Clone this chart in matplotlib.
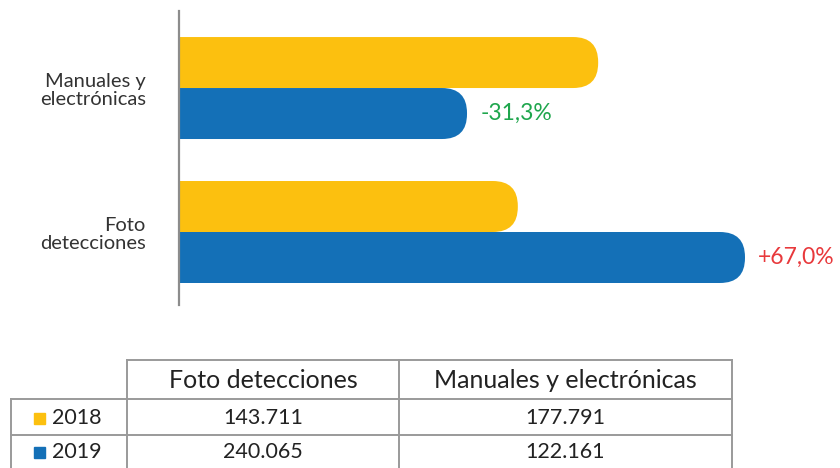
import matplotlib.pyplot as plt
from matplotlib.patches import FancyBboxPatch, Rectangle

plt.rcParams['font.family'] = ['Lato', 'DejaVu Sans']

# data
categories = ["Foto\ndetecciones", "Manuales y\nelectrónicas"]
table_headers = ["Foto detecciones", "Manuales y electrónicas"]
years = ["2018", "2019"]
v2018 = [143711, 177791]
v2019 = [240065, 122161]
changes = ["+67,0%", "-31,3%"]
change_colors = ["#e8393c", "#1fa64d"]

yellow = "#fcc00f"
blue = "#1470b7"
text_col = "#333333"

fig = plt.figure(figsize=(8.4, 4.68), dpi=100)

# chart area (pixel layout converted to figure fractions)
ax = fig.add_axes([179 / 840, (468 - 305) / 468, 640 / 840, 294 / 468])
xmax = 640 * 240065 / 566
ax.set_xlim(0, xmax)
ax.set_ylim(-0.507, 1.535)

ypos = [0, 1]
h = 51 / 144
b18 = ax.barh([y + h / 2 for y in ypos], v2018, height=h, color=yellow)
b19 = ax.barh([y - h / 2 for y in ypos], v2019, height=h, color=blue)

# rounded right ends: redraw each bar as a rounded box running past the axis
xu_per_px = xmax / 640
yu_per_px = 1 / 144
aspect = yu_per_px / xu_per_px
R = 25 * xu_per_px
for bars in (b18, b19):
    for b in bars:
        x0, y0 = b.get_x(), b.get_y()
        w, hh = b.get_width(), b.get_height()
        b.set_visible(False)
        p = FancyBboxPatch((-R, y0), w + R, hh,
                           boxstyle=f"round,pad=0,rounding_size={R}",
                           mutation_aspect=aspect,
                           facecolor=b.get_facecolor(), edgecolor="none")
        ax.add_patch(p)

for b, txt, c in zip(b19, changes, change_colors):
    ax.annotate(txt, (b.get_width(), b.get_y() + b.get_height() / 2),
                xytext=(9.5, 0), textcoords="offset points",
                va="center", ha="left", fontsize=16.5, color=c)

ax.set_yticks(ypos)
ax.set_yticklabels(categories, fontsize=14.5, color=text_col)
for t in ax.get_yticklabels():
    t.set_linespacing(1.1)
ax.tick_params(axis="y", length=0, pad=24)
ax.set_xticks([])
for s in ["top", "right", "bottom"]:
    ax.spines[s].set_visible(False)
ax.spines["left"].set_color("#8c8c8c")
ax.spines["left"].set_linewidth(1.6)

# table below the chart, in pixel coordinates
tax = fig.add_axes([0, 0, 1, 118 / 468])
tax.set_xlim(0, 840)
tax.set_ylim(468, 350)
tax.axis("off")

col_x = [127, 399, 732]
left_x = 11
row_y = [360, 399, 435, 468]
lc = "#9a9a9a"
lw = 1.4

tax.plot([col_x[0], col_x[-1]], [row_y[0], row_y[0]], color=lc, lw=lw)
for y in row_y[1:3]:
    tax.plot([left_x, col_x[-1]], [y, y], color=lc, lw=lw)
for x in col_x:
    tax.plot([x, x], [row_y[0], row_y[-1]], color=lc, lw=lw)
tax.plot([left_x, left_x], [row_y[1], row_y[-1]], color=lc, lw=lw)

for i, head in enumerate(table_headers):
    tax.text((col_x[i] + col_x[i + 1]) / 2, (row_y[0] + row_y[1]) / 2 + 1, head,
             ha="center", va="center", fontsize=18, color="#222222")

fmt = lambda v: f"{v:,}".replace(",", ".")
for r, (yr, vals, col) in enumerate(zip(years, [v2018, v2019], [yellow, blue])):
    yc = (row_y[r + 1] + row_y[r + 2]) / 2 + 1
    tax.add_patch(Rectangle((34, yc - 5.5), 11, 11, color=col))
    tax.text(52, yc, yr, ha="left", va="center", fontsize=15.5, color="#222222")
    for i, v in enumerate(vals):
        tax.text((col_x[i] + col_x[i + 1]) / 2, yc, fmt(v),
                 ha="center", va="center", fontsize=15.5, color="#222222")

fig.savefig("out.png", dpi=100)
